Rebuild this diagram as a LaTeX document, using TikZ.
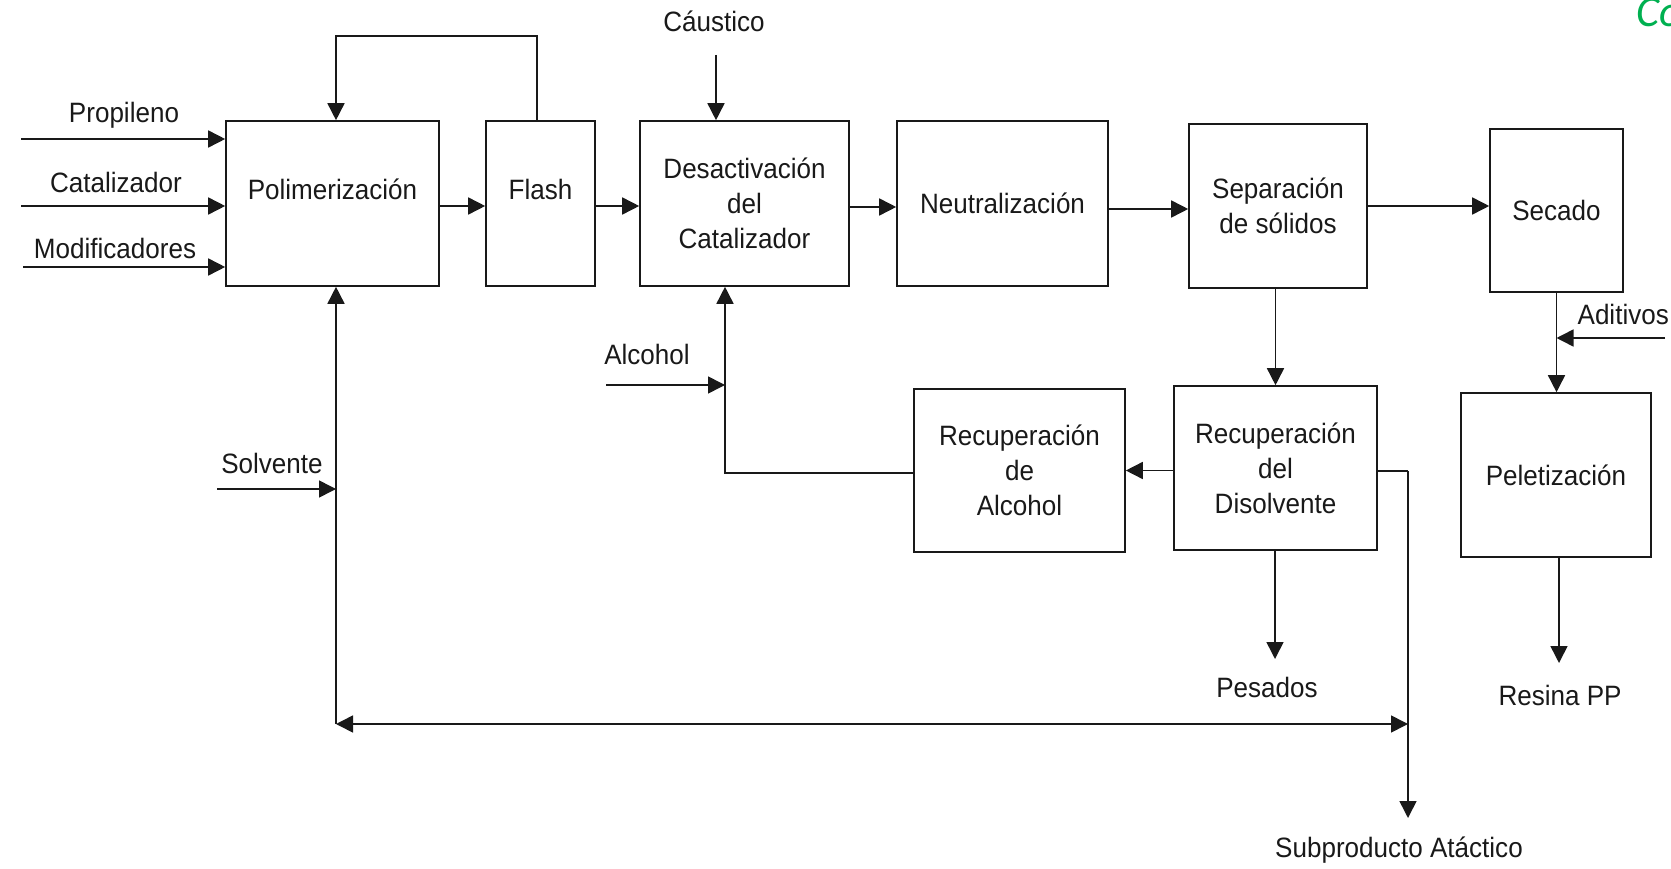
\documentclass[tikz,border=0pt]{standalone}
\usepackage{fontspec}
\setmainfont{Liberation Sans}[FakeStretch=0.93]
\newfontfamily\notefont{Carlito}
\usetikzlibrary{arrows.meta}
\definecolor{ink}{RGB}{25,25,25}
\definecolor{notegreen}{RGB}{0,176,80}
\begin{document}
\begin{tikzpicture}[x=1pt,y=-1pt,
  every node/.style={font=\fontsize{28}{35}\selectfont, text=ink},
  box/.style={draw=ink, line width=1.6pt, inner sep=0pt, align=center},
  lbl/.style={inner sep=0pt, align=center},
  tip/.tip={Triangle[length=17pt,width=17pt]},
  arr/.style={draw=ink, line width=1.6pt, -tip},
  arrboth/.style={draw=ink, line width=1.6pt, tip-tip},
  line/.style={draw=ink, line width=1.6pt}]
\useasboundingbox (0,0) rectangle (1671,869);
\clip (0,0) rectangle (1671,869);

% process blocks
\node[box, minimum width=213pt, minimum height=165pt,
      label={[lbl, yshift=14pt]center:Polimerización}] (pol) at (332.5,203.5) {};
\node[box, minimum width=109pt, minimum height=165pt,
      label={[lbl, yshift=14pt]center:Flash}] (flash) at (540.5,203.5) {};
\node[box, minimum width=209pt, minimum height=165pt] (desact) at (744.5,203.5) {Desactivación\\del\\Catalizador};
\node[box, minimum width=211pt, minimum height=165pt] (neut) at (1002.5,203.5) {Neutralización};
\node[box, minimum width=178pt, minimum height=164pt] (sep) at (1278,206) {Separación\\de sólidos};
\node[box, minimum width=133pt, minimum height=163pt] (secado) at (1556.5,210.5) {Secado};
\node[box, minimum width=190pt, minimum height=164pt] (pel) at (1556,475) {Peletización};
\node[box, minimum width=203pt, minimum height=164pt] (recd) at (1275.5,468) {Recuperación\\del\\Disolvente};
\node[box, minimum width=211pt, minimum height=163pt] (reca) at (1019.5,470.5) {Recuperación\\de\\Alcohol};

% stream labels
\node[lbl] (tprop) at (124,115) {Propileno};
\node[lbl] (tcat) at (116,182) {Catalizador};
\node[lbl] (tmod) at (115,248) {Modificadores};
\node[lbl] (tcaus) at (714,21) {Cáustico};
\node[lbl, anchor=east] (tadit) at (1669,314) {Aditivos};
\node[lbl] (tres) at (1560,695) {Resina PP};
\node[lbl] (talc) at (647,354) {Alcohol};
\node[lbl] (tpes) at (1267,687) {Pesados};
\node[lbl] (tsub) at (1399,850) {Subproducto Atáctico};
\node[lbl] (tsol) at (272,463) {Solvente};
\node[lbl, anchor=base west, font=\notefont\itshape\fontsize{44}{50}\selectfont, text=notegreen] (tnote) at (1636,27) {Co};

% free stream ends
\coordinate (in1) at (21,139);
\coordinate (in2) at (21,206);
\coordinate (in3) at (23,267);
\coordinate (fb1) at (537,36);
\coordinate (fb2) at (336,36);
\coordinate (caus) at (716,55);
\coordinate (adin) at (1665,338);
\coordinate (res) at (1559,663);
\coordinate (alc) at (725,473);
\coordinate (alcin) at (606,385);
\coordinate (pes) at (1275,659);
\coordinate (sub1) at (1408,471);
\coordinate (sub2) at (1408,818);
\coordinate (sl) at (336,724);
\coordinate (solin) at (217,489);
\coordinate (ml) at (0,206);

% feeds
\draw[arr] (in1) -- (pol.west |- in1);
\draw[arr] (in2) -- (pol.west |- in2);
\draw[arr] (in3) -- (pol.west |- in3);

% main line
\draw[arr] (pol.east |- ml) -- (flash.west |- ml);
\draw[arr] (flash.east |- ml) -- (desact.west |- ml);
\draw[arr] ([yshift=-1pt]desact.east |- ml) -- ([yshift=-1pt]neut.west |- ml);
\draw[arr] ([yshift=-3pt]neut.east |- ml) -- ([yshift=-3pt]sep.west |- ml);
\draw[arr] (sep.east |- ml) -- (secado.west |- ml);

% flash recycle
\draw[arr] (flash.north -| fb1) -- (fb1) -- (fb2) -- (pol.north -| fb2);

% caustic
\draw[arr] (caus) -- (desact.north -| caus);

% drying and pelletising
\draw[arr] (secado.south) -- (pel.north -| secado.south);
\draw[arr] (adin) -- (secado.south |- adin);
\draw[arr] (pel.south -| res) -- (res);

% solids separation and recovery
\draw[arr] (recd.north |- sep.south) -- (recd.north);
\draw[arr] (recd.west |- reca.east) -- (reca.east);
\draw[arr] (reca.west |- alc) -- (alc) -- (desact.south -| alc);
\draw[arr] (alcin) -- (alc |- alcin);
\draw[arr] (recd.south -| pes) -- (pes);

% atactic by-product and solvent recycle
\draw[line] (recd.east |- sub1) -- (sub1);
\draw[arr] (sub1) -- (sub2);
\draw[arrboth] (sl) -- (sub1 |- sl);
\draw[arr] (sl) -- (pol.south -| sl);
\draw[arr] (solin) -- (sl |- solin);
\end{tikzpicture}
\end{document}
